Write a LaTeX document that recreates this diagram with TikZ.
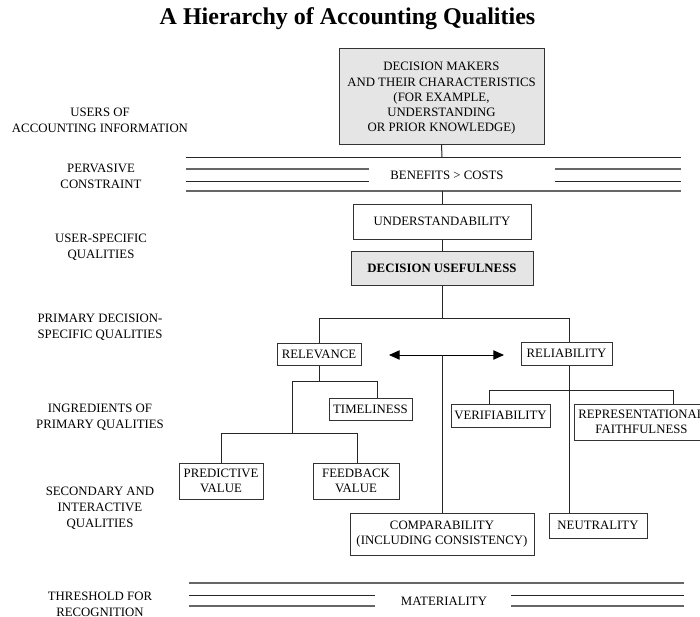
\documentclass[tikz,border=0pt]{standalone}
\usepackage{fontspec}
\setmainfont{Liberation Serif}
\usetikzlibrary{arrows.meta}
\tikzset{
  box/.style={draw=black!80, line width=0.75pt, inner sep=0pt, align=center,
    font=\fontsize{9.6}{11.5}\selectfont},
  greybox/.style={box, fill=black!10},
  lbl/.style={align=center, inner sep=0pt, font=\fontsize{9.6}{12}\selectfont},
  conn/.style={draw=black!85, line width=0.75pt},
  rule/.style={draw=black!85, line width=0.75pt},
  ruleg/.style={draw=black!60, line width=0.9pt},
}
\begin{document}
\begin{tikzpicture}[x=0.75pt,y=-0.75pt]
\useasboundingbox (0,0) rectangle (700,617);
\clip (0,0) rectangle (700,617);

% title
\node[inner sep=0pt, anchor=base, font=\fontsize{18}{22}\selectfont\bfseries] (title) at (347.5,25) {A Hierarchy of Accounting Qualities};

% left labels
\node[lbl] (l1) at (100,120) {USERS OF\\ACCOUNTING INFORMATION};
\node[lbl] (l2) at (101,176) {PERVASIVE\\CONSTRAINT};
\node[lbl] (l3) at (101,247) {USER-SPECIFIC\\QUALITIES};
\node[lbl] (l4) at (100,327) {PRIMARY DECISION-\\SPECIFIC QUALITIES};
\node[lbl] (l5) at (100,417) {INGREDIENTS OF\\PRIMARY QUALITIES};
\node[lbl] (l6) at (100,508) {SECONDARY AND\\INTERACTIVE\\QUALITIES};
\node[lbl] (l7) at (100,604) {THRESHOLD FOR\\RECOGNITION};

% boxes
\node[greybox, minimum width=153.75pt, minimum height=71.25pt] (dm) at (441.5,96.5) {};
\node[align=center, inner sep=0pt, font=\fontsize{9.6}{11.44}\selectfont] (dmt) at (441.5,98.5)
  {DECISION MAKERS\\AND THEIR CHARACTERISTICS\\(FOR EXAMPLE,\\UNDERSTANDING\\OR PRIOR KNOWLEDGE)};
\node[box, minimum width=133.5pt, minimum height=26.25pt] (und) at (442,221.5) {UNDERSTANDABILITY};
\node[greybox, minimum width=136.5pt, minimum height=25.5pt, font=\fontsize{9.6}{11.5}\selectfont\bfseries] (du) at (442,268) {DECISION USEFULNESS};
\node[box, minimum width=63pt, minimum height=16.5pt] (rel) at (319,354) {RELEVANCE};
\node[box, minimum width=68.25pt, minimum height=17.25pt] (reli) at (566.5,353.5) {RELIABILITY};
\node[box, minimum width=62.25pt, minimum height=16.5pt] (time) at (370.5,409) {TIMELINESS};
\node[box, minimum width=74.25pt, minimum height=17.25pt] (ver) at (500.5,415.5) {VERIFIABILITY};
\node[box, minimum width=101.25pt, minimum height=27pt] (rep) at (641.5,422) {REPRESENTATIONAL\\FAITHFULNESS};
\node[box, minimum width=63pt, minimum height=27pt] (pred) at (221,481) {PREDICTIVE\\VALUE};
\node[box, minimum width=64.5pt, minimum height=27pt] (feed) at (356,481) {FEEDBACK\\VALUE};
\node[box, minimum width=138pt, minimum height=31.5pt] (comp) at (442,534) {COMPARABILITY\\(INCLUDING CONSISTENCY)};
\node[box, minimum width=73.5pt, minimum height=18.75pt] (neut) at (598,525.5) {NEUTRALITY};

% benefits > costs band
\node[lbl] (bc) at (447,175) {BENEFITS > COSTS};
\coordinate (b1l) at (186,157); \coordinate (b1r) at (681,157);
\coordinate (b4l) at (186,191); \coordinate (b4r) at (681,191);
\draw[rule] (b1l) -- (b1r);
\draw[ruleg] (186,169) -- (369,169) (555,169) -- (681,169);
\draw[rule] (186,181) -- (369,181) (555,181) -- (681,181);
\draw[ruleg] (b4l) -- (b4r);

% materiality band
\node[lbl] (mat) at (444,601) {MATERIALITY};
\draw[ruleg] (189,583) -- (684,583);
\draw[rule] (189,595) -- (375,595) (511,595) -- (684,595);
\draw[ruleg] (189,606) -- (375,606) (511,606) -- (684,606);

% connectors
\coordinate (c1) at (442,157);
\coordinate (c4) at (442,191);
\draw[conn] (dm.south) -- (c1);
\draw[conn] (c4) -- (und.north);
\draw[conn] (und.south) -- (du.north);

\coordinate (br) at (442,318);
\coordinate (brl) at (319,318);
\coordinate (brr) at (569,318);
\draw[conn] (du.south) -- (br);
\draw[conn] (rel.north) -- (brl) -- (brr) -- (brr |- reli.north);

% relevance subtree
\coordinate (ra) at (319,381);
\coordinate (ral) at (292,381);
\coordinate (rar) at (377,381);
\draw[conn] (rel.south) -- (ra);
\draw[conn] (ral) -- (rar) -- (rar |- time.north);
\coordinate (rb) at (292,433);
\coordinate (rbl) at (221,433);
\coordinate (rbr) at (357,433);
\draw[conn] (ral) -- (rb);
\draw[conn] (pred.north) -- (rbl) -- (rbr) -- (rbr |- feed.north);

% arrow and comparability
\coordinate (al) at (389,355);
\coordinate (ar) at (504,355);
\coordinate (am) at (442,355);
\draw[conn, {Triangle[length=8pt,width=7pt]}-{Triangle[length=8pt,width=7pt]}, black] (al) -- (ar);
\draw[conn] (am) -- (comp.north);

% reliability subtree
\coordinate (rc) at (569,390);
\coordinate (rcl) at (489,390);
\coordinate (rcr) at (673,390);
\draw[conn] (reli.south -| rc) -- (rc |- neut.north);
\draw[conn] (rcl |- ver.north) -- (rcl) -- (rcr) -- (rcr |- rep.north);
\end{tikzpicture}
\end{document}
